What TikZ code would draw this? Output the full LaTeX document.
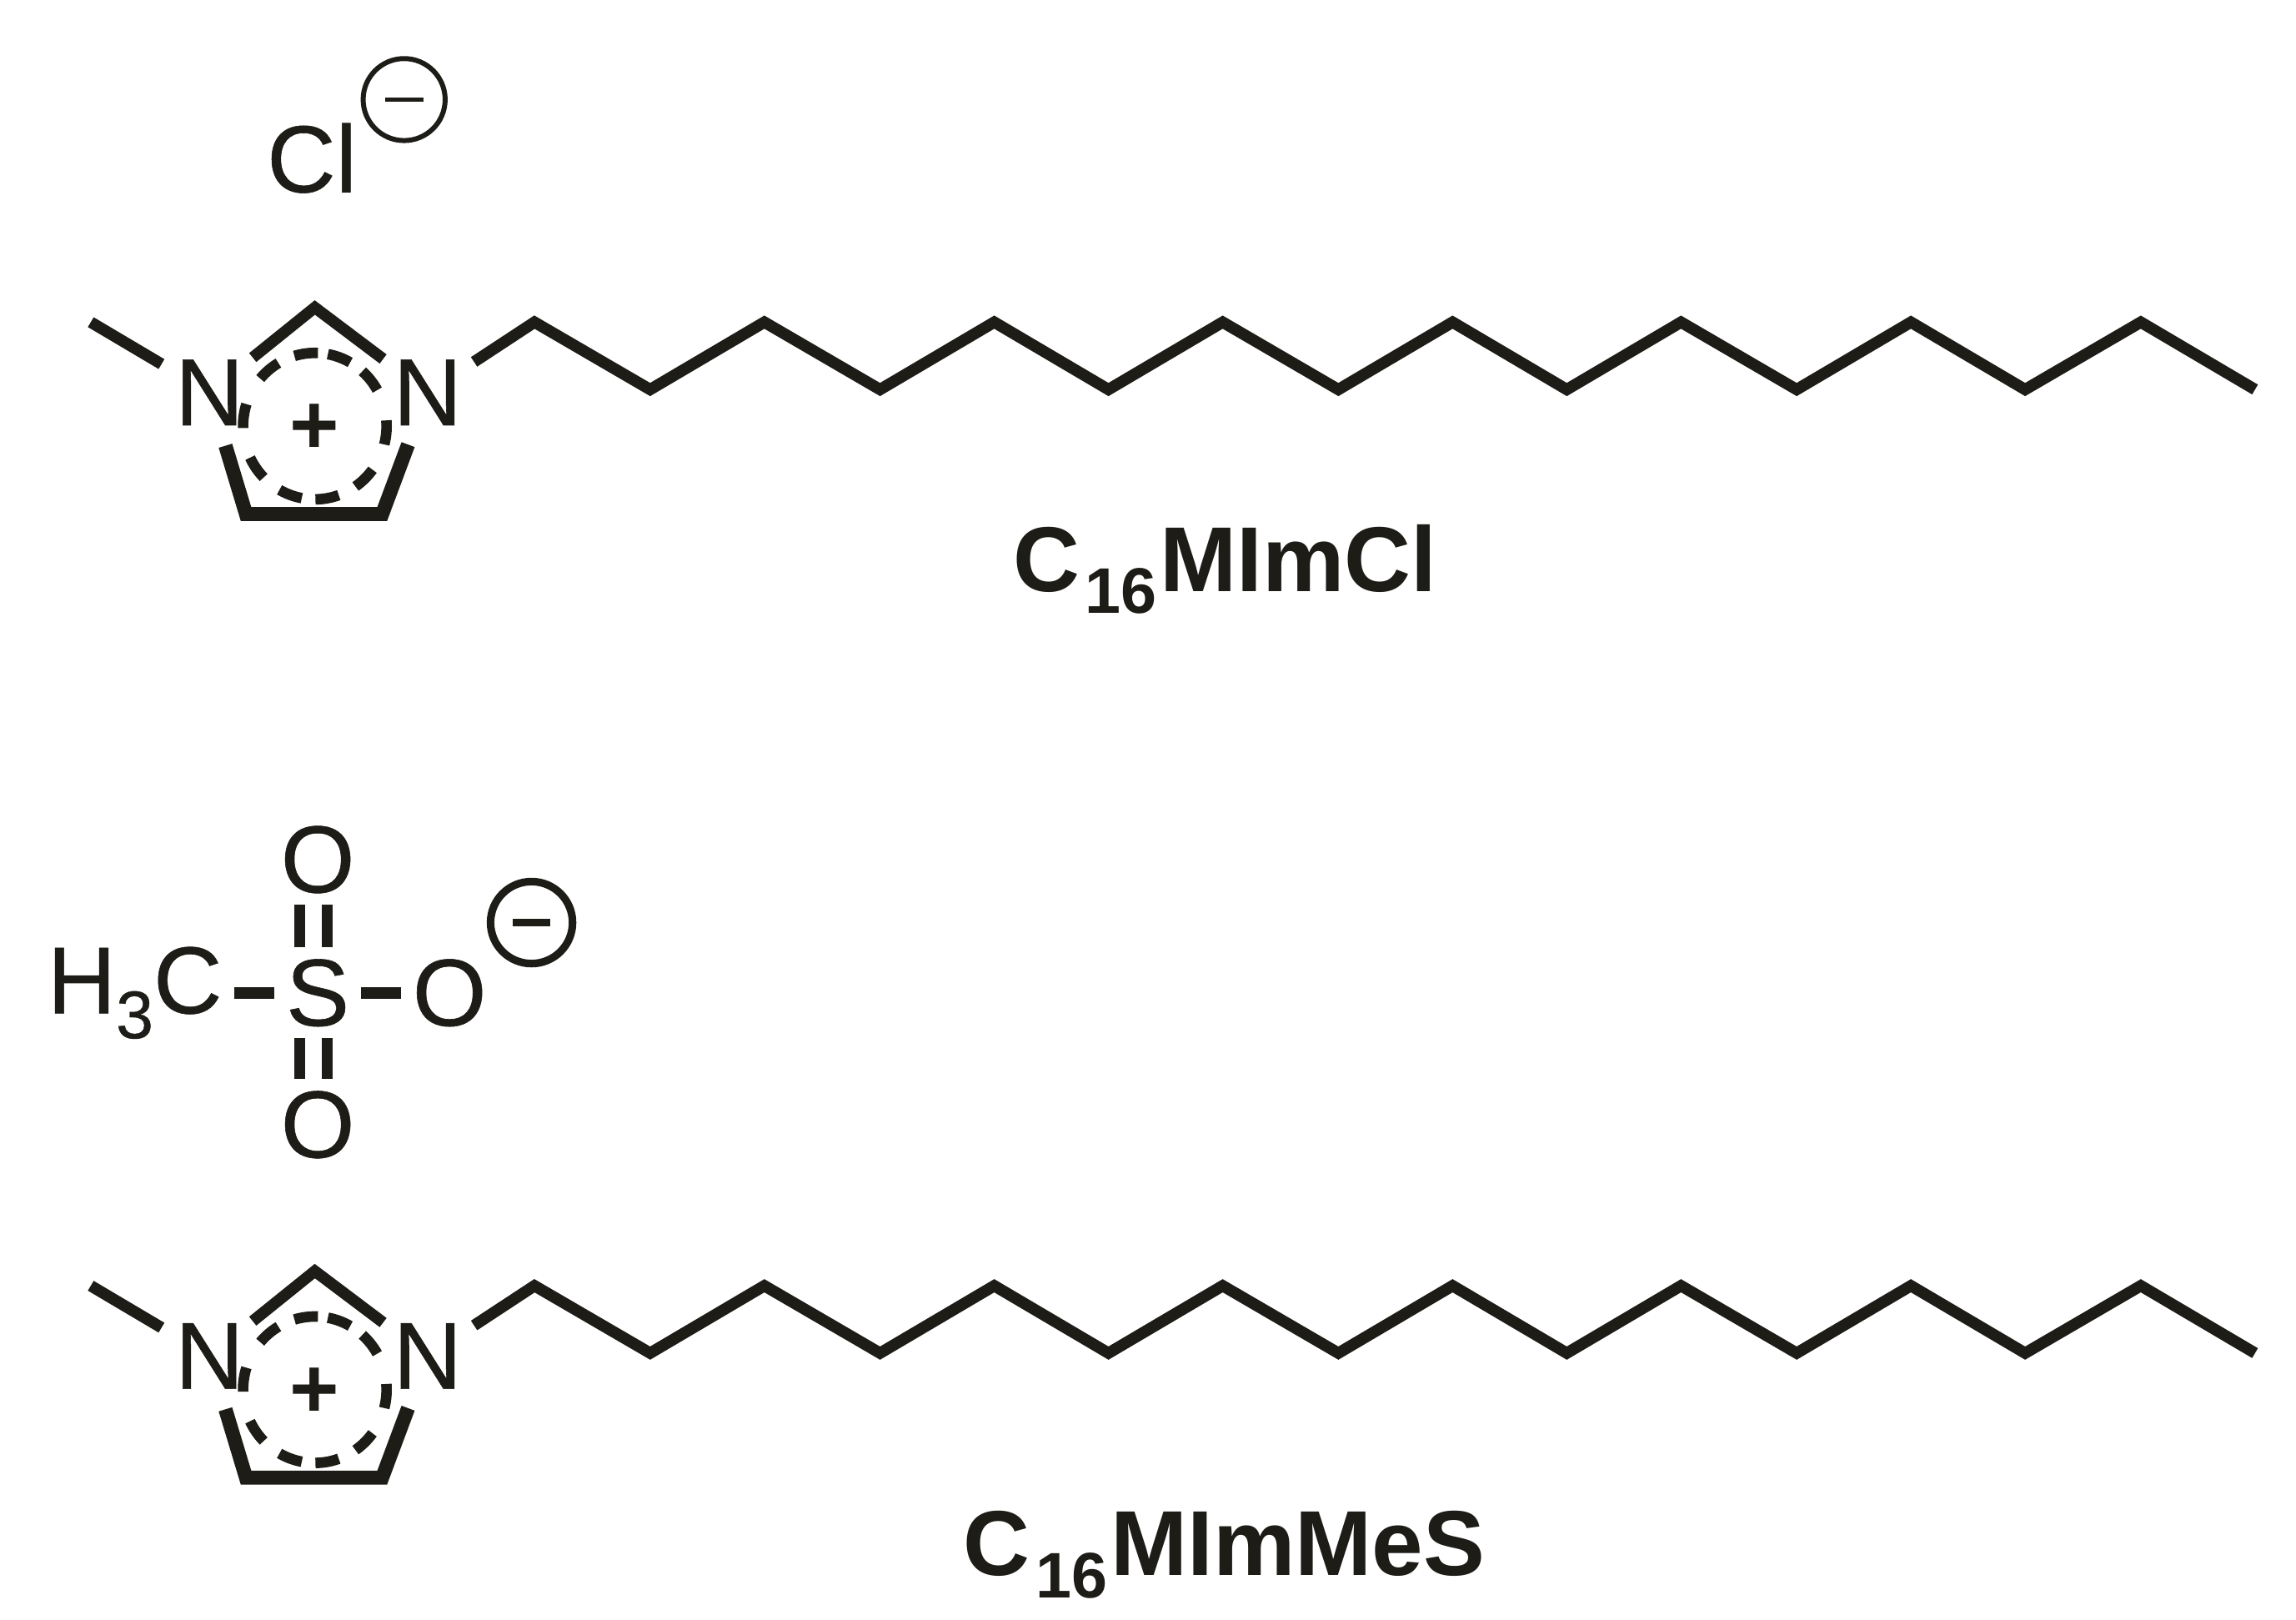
\documentclass[tikz,border=0pt]{standalone}
\usepackage{fontspec}
\setmainfont{Liberation Sans}[UprightFeatures={FakeBold=0.5}]
\definecolor{ink}{HTML}{1D1C17}
\tikzset{
  x=0.5pt, y=-0.5pt,
  bond/.style={draw=ink, line width=3.9pt, line cap=butt, line join=miter},
  thickbond/.style={draw=ink, line width=4.8pt, line cap=butt, line join=miter},
  dashseg/.style={draw=ink, line width=3.6pt, line cap=butt},
  atom/.style={text=ink, inner sep=4pt, outer sep=0pt, font=\fontsize{32.5}{38}\selectfont},
  ringN/.style={shape=circle, text=ink, inner sep=0pt, outer sep=0pt, minimum size=38pt, font=\fontsize{32.5}{38}\selectfont},
  plussign/.style={text=ink, inner sep=0pt, font=\fontsize{29}{34}\selectfont\bfseries},
  charge/.style={shape=circle, draw=ink, minimum size=#1, inner sep=0pt, outer sep=0pt},
  title/.style={text=ink, inner sep=0pt, anchor=base, font=\fontsize{31.5}{38}\selectfont\bfseries},
  cation/.pic={
    \node[ringN] (Nl) at (143,268) {N};
    \node[ringN] (Nr) at (292,268) {N};
    \node[plussign] (plus) at (215,293) {+};
    \coordinate (me) at (62,220);
    \coordinate (top) at (215,210);
    \coordinate (bl) at (168,351);
    \coordinate (br) at (261,351);
    \draw[bond] (me) -- (Nl);
    \draw[bond] (Nl) -- (top) -- (Nr);
    \draw[thickbond] (Nl) -- (bl) -- (br) -- (Nr);
    \foreach \a in {130,97,70,39,-5,-46,-80,-110,-145,172}
      \draw[dashseg] (215,291) ++(\a-9.5:24.5pt and 25pt) arc[start angle=\a-9.5, end angle=\a+9.5, x radius=24.5pt, y radius=25pt];
    \coordinate (c1) at (365,220);
    \coordinate (c2) at (444,266);
    \coordinate (c3) at (522,220);
    \coordinate (c4) at (601,266);
    \coordinate (c5) at (679,220);
    \coordinate (c6) at (757,266);
    \coordinate (c7) at (835,220);
    \coordinate (c8) at (914,266);
    \coordinate (c9) at (992,220);
    \coordinate (c10) at (1070,266);
    \coordinate (c11) at (1148,220);
    \coordinate (c12) at (1227,266);
    \coordinate (c13) at (1305,220);
    \coordinate (c14) at (1383,266);
    \coordinate (c15) at (1462,220);
    \coordinate (c16) at (1540,266);
    \draw[bond] (Nr) -- (c1) -- (c2) -- (c3) -- (c4) -- (c5) -- (c6) -- (c7) -- (c8)
      -- (c9) -- (c10) -- (c11) -- (c12) -- (c13) -- (c14) -- (c15) -- (c16);
  }
}
\begin{document}
\begin{tikzpicture}
\useasboundingbox (0,0) rectangle (1568,1106);
% first salt
\node[atom, inner sep=0pt] (cl) at (213,108) {Cl};
\node[charge=28pt, line width=1.7pt] (q1) at (276,68) {};
\draw[draw=ink, line width=1.3pt] ([xshift=-6.5pt]q1.center) -- ([xshift=6.5pt]q1.center);
\pic (a) at (0,0) {cation};
\node[title] (t1) at (836.5,404) {C\kern2pt\raisebox{-7.5pt}{\fontsize{22}{24}\selectfont 16}\kern1pt MImCl};
% second salt
\node[atom] (hc) at (92,678) {H\raisebox{-8.5pt}{\fontsize{23}{24}\selectfont 3}C};
\node[atom] (S) at (217,678) {S};
\node[atom] (Or) at (307,678) {O};
\node[atom] (Ot) at (217,587) {O};
\node[atom] (Ob) at (217,768) {O};
\draw[bond] (hc.east |- S.center) -- (S);
\draw[bond] (S) -- (Or);
\draw[bond] ([xshift=-6.2pt]S.north) -- ([xshift=-6.2pt]S.north |- Ot.south);
\draw[bond] ([xshift=3.2pt]S.north) -- ([xshift=3.2pt]S.north |- Ot.south);
\draw[bond] ([xshift=-6.2pt]S.south) -- ([xshift=-6.2pt]S.south |- Ob.north);
\draw[bond] ([xshift=3.2pt]S.south) -- ([xshift=3.2pt]S.south |- Ob.north);
\node[charge=28pt, line width=2.6pt] (q2) at (363,630) {};
\draw[draw=ink, line width=2.6pt] ([xshift=-6.5pt]q2.center) -- ([xshift=6.5pt]q2.center);
\begin{scope}[yshift=-329pt]
\pic (b) at (0,0) {cation};
\end{scope}
\node[title] (t2) at (836,1076) {C\kern2pt\raisebox{-7.5pt}{\fontsize{22}{24}\selectfont 16}\kern1pt MImMeS};
\end{tikzpicture}
\end{document}
